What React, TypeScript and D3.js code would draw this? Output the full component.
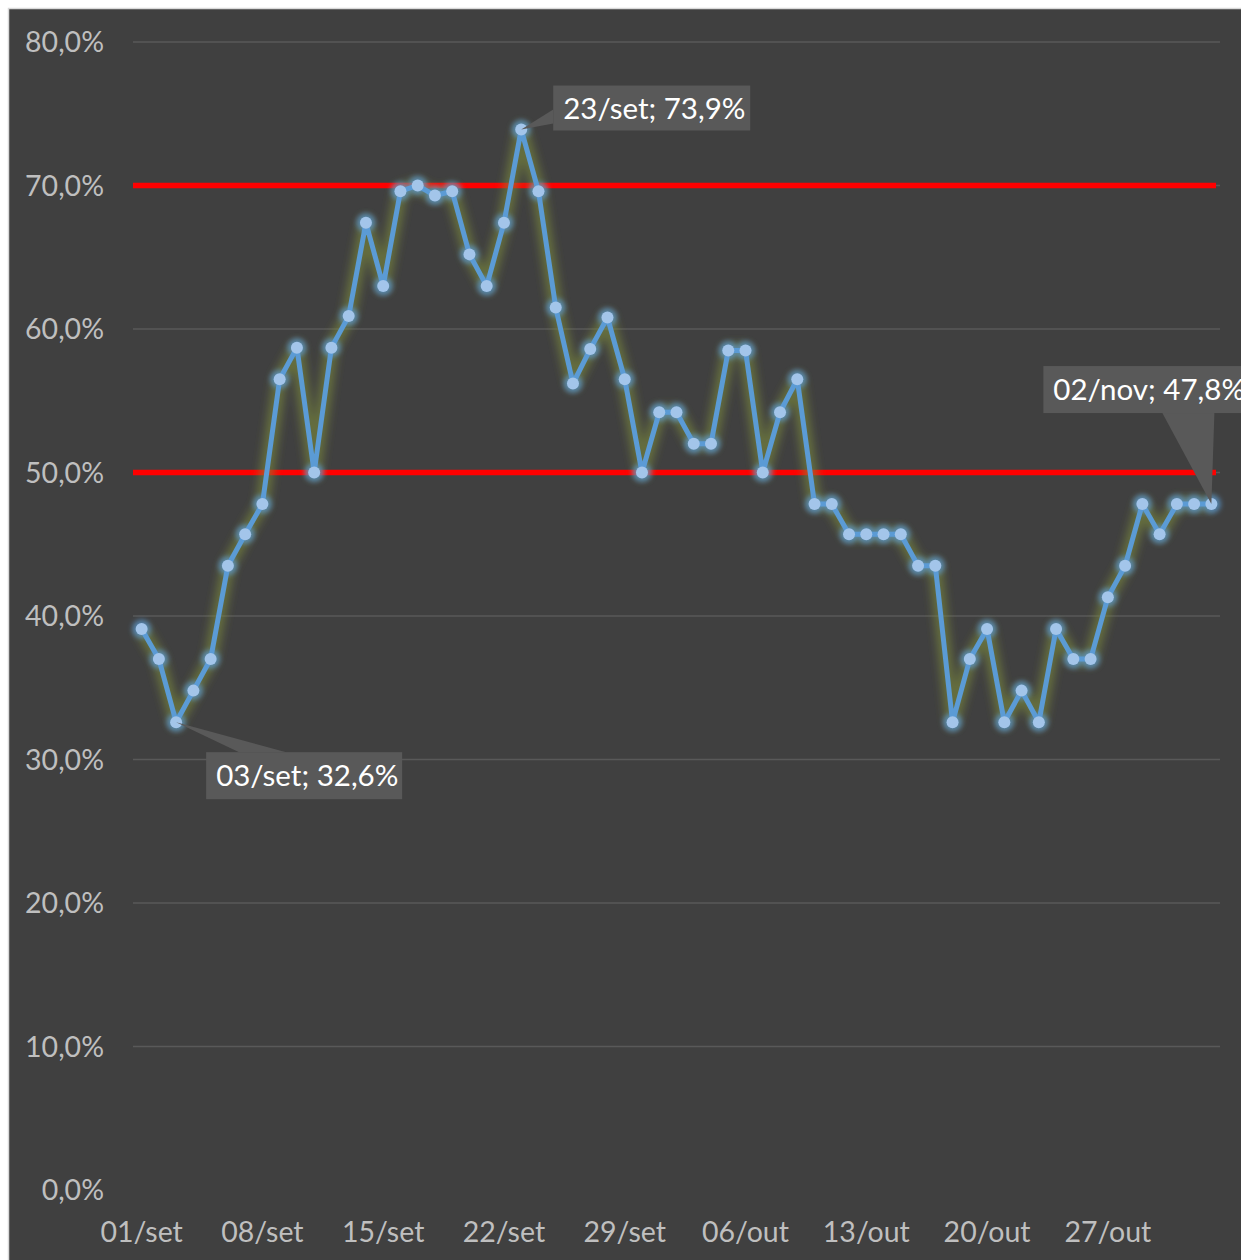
import * as d3 from "d3";
import React from "react";

// daily share, 01/set .. 02/nov
const startDay = new Date(2020, 8, 1);
const endDay = new Date(2020, 10, 3);
const days = d3.timeDay.range(startDay, endDay);
const monthNames = ["jan", "fev", "mar", "abr", "mai", "jun", "jul", "ago", "set", "out", "nov", "dez"];

const values = [
  39.1, 37.0, 32.6, 34.8, 37.0, 43.5, 45.7, 47.8, 56.5, 58.7,
  50.0, 58.7, 60.9, 67.4, 63.0, 69.6, 70.0, 69.3, 69.6, 65.2,
  63.0, 67.4, 73.9, 69.6, 61.5, 56.2, 58.6, 60.8, 56.5, 50.0,
  54.2, 54.2, 52.0, 52.0, 58.5, 58.5, 50.0, 54.2, 56.5, 47.8,
  47.8, 45.7, 45.7, 45.7, 45.7, 43.5, 43.5, 32.6, 37.0, 39.1,
  32.6, 34.8, 32.6, 39.1, 37.0, 37.0, 41.3, 43.5, 47.8, 45.7,
  47.8, 47.8, 47.8,
];

const yTicks = [0, 10, 20, 30, 40, 50, 60, 70, 80];
const xTickLabels = ["01/set", "08/set", "15/set", "22/set", "29/set", "06/out", "13/out", "20/out", "27/out"];
const limits = [70, 50];
const labelled = [22, 2, 62];

const fmtDay = (d: Date) => d3.timeFormat("%d")(d) + "/" + monthNames[d.getMonth()];
const fmtPct = (v: number) => v.toFixed(1).replace(".", ",") + "%";

const W = 1241, H = 1260;
const L = 133, R = 1220, T = 42, B = 1190;

const App: React.FC = () => {
  const x = d3.scaleBand<number>().domain(days.map((_, i) => i)).range([L, R]);
  const cx = (i: number) => (x(i) as number) + x.bandwidth() / 2;
  const y = d3.scaleLinear().domain([0, 80]).range([B, T]);

  const line = d3.line<number>().x((_, i) => cx(i)).y(d => y(d));
  const path = line(values) || "";
  const font = "Lato, 'Open Sans', sans-serif";

  // callout box and wedge for each labelled point
  const callout = (i: number) => {
    const px = cx(i), py = y(values[i]);
    const text = fmtDay(days[i]) + "; " + fmtPct(values[i]);
    if (i === 22) {
      const bx = px + 32, by = py - 44, bw = 197, bh = 45;
      return { text, bx, by, bw, bh, wedge: `M${px},${py} L${bx},${by + 24} L${bx},${by + 38} Z` };
    }
    if (i === 2) {
      const bx = px + 30, by = py + 30, bw = 196, bh = 47;
      return { text, bx, by, bw, bh, wedge: `M${px},${py} L${bx + 33},${by} L${bx + 80},${by} Z` };
    }
    const bx = px - 168, by = py - 138, bw = 210, bh = 47;
    return { text, bx, by, bw, bh, wedge: `M${px},${py} L${bx + 119},${by + bh} L${bx + 171},${by + bh} Z` };
  };

  return (
    <svg width={W} height={H} style={{ position: "fixed", left: 0, top: 0 }}>
      <defs>
        <filter id="glow" x="-10%" y="-10%" width="120%" height="120%">
          <feGaussianBlur stdDeviation="4" />
        </filter>
        <filter id="mglow" x="-100%" y="-100%" width="300%" height="300%">
          <feGaussianBlur stdDeviation="2.8" />
        </filter>
      </defs>
      <rect x={0} y={0} width={W} height={H} fill="#ffffff" />
      <rect x={8.5} y={8.5} width={W} height={H} fill="#404040" stroke="#d9d9d9" strokeWidth={1.5} />

      {yTicks.map(t => (
        <g key={t}>
          {t !== 0 && <line x1={L} x2={R} y1={y(t)} y2={y(t)} stroke="#595959" strokeWidth={1.5} />}
          <text x={104} y={y(t)} dy="0.36em" textAnchor="end" fill="#bfbfbf" fontSize={28.5} fontFamily={font}>
            {fmtPct(t)}
          </text>
        </g>
      ))}

      {xTickLabels.map((lab, k) => (
        <text key={lab} x={cx(k * 7)} y={1242} textAnchor="middle" fill="#bfbfbf" fontSize={28.5} fontFamily={font}>
          {lab}
        </text>
      ))}

      {limits.map(v => (
        <line key={v} x1={L} x2={1216} y1={y(v)} y2={y(v)} stroke="#ff0000" strokeWidth={5.5} />
      ))}

      <path d={path} fill="none" stroke="#7d8c3c" strokeOpacity={0.6} strokeWidth={14} strokeLinejoin="round" filter="url(#glow)" />
      {values.map((v, i) => (
        <circle key={"g" + i} cx={cx(i)} cy={y(v)} r={9.5} fill="#5b9bd5" fillOpacity={0.7} filter="url(#mglow)" />
      ))}
      <path d={path} fill="none" stroke="#5b9bd5" strokeWidth={5} strokeLinejoin="round" />
      {values.map((v, i) => (
        <circle key={"m" + i} cx={cx(i)} cy={y(v)} r={6} fill="#a3c5ea" />
      ))}

      {labelled.map(i => {
        const c = callout(i);
        return (
          <g key={"c" + i}>
            <path d={c.wedge} fill="#595959" />
            <rect x={c.bx} y={c.by} width={c.bw} height={c.bh} fill="#595959" />
            <text x={c.bx + 10} y={c.by + c.bh / 2} dy="0.36em" fill="#ffffff" fontSize={29.5} fontFamily={font}>
              {c.text}
            </text>
          </g>
        );
      })}
    </svg>
  );
};

export default App;
